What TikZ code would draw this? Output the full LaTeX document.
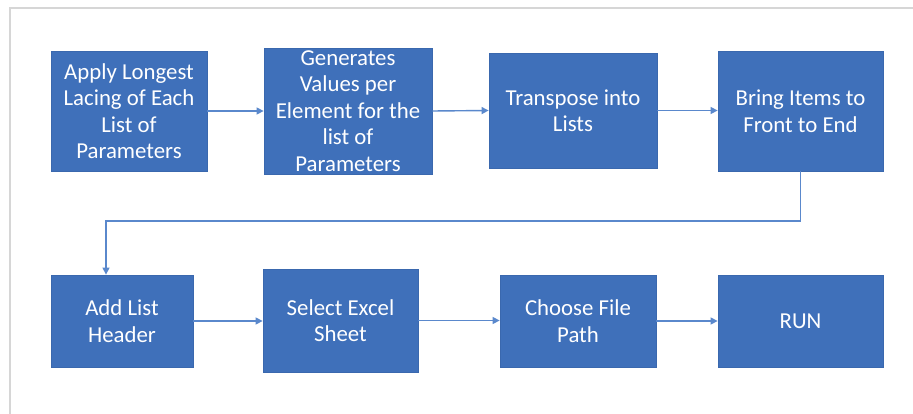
\documentclass[tikz,border=0pt]{standalone}
\usepackage{fontspec}
\setmainfont{Carlito}
\usetikzlibrary{arrows.meta}
\definecolor{boxblue}{HTML}{3F70BA}
\definecolor{boxedge}{HTML}{3A68AE}
\definecolor{linkblue}{HTML}{5A88CC}
\definecolor{framegray}{HTML}{D6D6D6}
\tikzset{
  stepbox/.style={rectangle, fill=boxblue, draw=boxedge, line width=0.8pt,
    text=white, align=center, inner sep=0pt,
    font=\fontsize{22.8}{26.5}\selectfont},
  link/.style={draw=linkblue, line width=1.4pt,
    -{Triangle[length=7pt,width=7pt]}}
}
\begin{document}
\begin{tikzpicture}[x=1pt,y=-1pt]
  \useasboundingbox (0,0) rectangle (913,414);
  \fill[white] (0,0) rectangle (913,414);
  % page frame
  \draw[framegray, line width=1.2pt] (913,8) -- (10,8) -- (10,414);

  % first row
  \node[stepbox, minimum width=156pt, minimum height=120pt] (b1) at (129,111)
    {Apply Longest\\Lacing of Each\\List of\\Parameters};
  \node[stepbox, minimum width=168pt, minimum height=126pt] (b2) at (348,111)
    {Generates\\Values per\\Element for the\\list of\\Parameters};
  \node[stepbox, minimum width=168pt, minimum height=115pt] (b3) at (573,110.5)
    {Transpose into\\Lists};
  \node[stepbox, minimum width=165pt, minimum height=120pt] (b4) at (800.5,111)
    {Bring Items to\\Front to End};

  % second row
  \node[stepbox, minimum width=142pt, minimum height=92pt] (b5) at (122,321)
    {Add List\\Header};
  \node[stepbox, minimum width=155pt, minimum height=103pt] (b6) at (340.5,320.5)
    {Select Excel\\Sheet};
  \node[stepbox, minimum width=156pt, minimum height=92pt] (b7) at (578,321)
    {Choose File\\Path};
  \node[stepbox, minimum width=165pt, minimum height=92pt] (b8) at (800.5,321)
    {RUN};

  % connectors
  \draw[link] (b1.east) -- (b2.west);
  \draw[link] (b2.east) -- (b3.west);
  \draw[link] (b3.east) -- (b4.west |- b3.east);
  \coordinate (turn) at (800.5,221);
  \coordinate (drop) at (106,221);
  \draw[link] (b4.south) -- (turn) -- (drop) -- (drop |- b5.north);
  \draw[link] (b5.east) -- (b6.west |- b5.east);
  \draw[link] (b6.east) -- (b7.west |- b6.east);
  \draw[link] (b7.east) -- (b8.west);
\end{tikzpicture}
\end{document}
